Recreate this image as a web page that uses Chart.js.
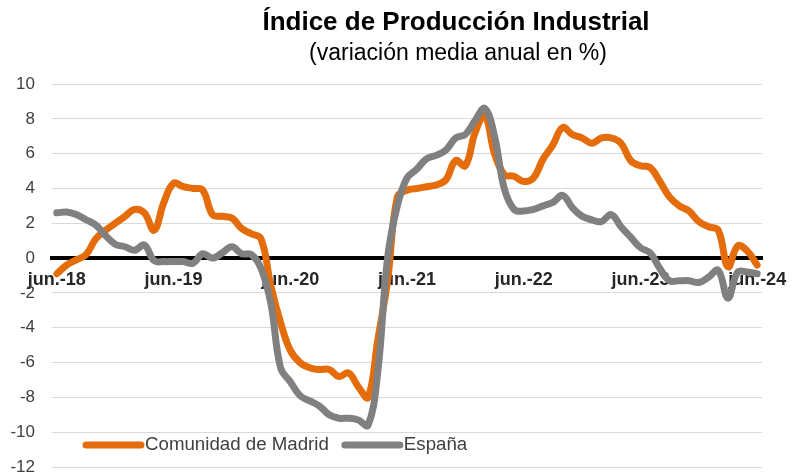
<!DOCTYPE html>
<html>
<head>
<meta charset="utf-8">
<script src="https://cdn.jsdelivr.net/npm/chart.js@4.4.1/dist/chart.umd.min.js"></script>
<style>
  body { margin: 0; background: #fff; }
  #wrap { width: 792px; height: 473px; position: relative; }
</style>
</head>
<body>
<div id="wrap"><canvas id="ipiCanvas"></canvas></div>
<script>
var titulo = 'Índice de Producción Industrial';
var subtitulo = '(variación media anual en %)';

var meses = [
	'jun.-18','jul.-18','ago.-18','sep.-18','oct.-18','nov.-18','dic.-18',
	'ene.-19','feb.-19','mar.-19','abr.-19','may.-19','jun.-19','jul.-19','ago.-19','sep.-19','oct.-19','nov.-19','dic.-19',
	'ene.-20','feb.-20','mar.-20','abr.-20','may.-20','jun.-20','jul.-20','ago.-20','sep.-20','oct.-20','nov.-20','dic.-20',
	'ene.-21','feb.-21','mar.-21','abr.-21','may.-21','jun.-21','jul.-21','ago.-21','sep.-21','oct.-21','nov.-21','dic.-21',
	'ene.-22','feb.-22','mar.-22','abr.-22','may.-22','jun.-22','jul.-22','ago.-22','sep.-22','oct.-22','nov.-22','dic.-22',
	'ene.-23','feb.-23','mar.-23','abr.-23','may.-23','jun.-23','jul.-23','ago.-23','sep.-23','oct.-23','nov.-23','dic.-23',
	'ene.-24','feb.-24','mar.-24','abr.-24','may.-24','jun.-24'
];
var etiquetasEje = ['jun.-18','jun.-19','jun.-20','jun.-21','jun.-22','jun.-23','jun.-24'];

var madrid = [
	-0.9, -0.4, -0.1, 0.2, 1.1, 1.6, 2.0, 2.4, 2.8, 2.6, 1.6, 3.2,
	4.3, 4.1, 4.0, 3.9, 2.5, 2.4, 2.3, 1.7, 1.4, 1.1, -1.6, -3.7,
	-5.3, -6.0, -6.3, -6.4, -6.4, -6.8, -6.6, -7.4, -8.0, -4.7, -1.3, 3.5,
	3.9, 4.0, 4.1, 4.2, 4.5, 5.6, 5.3, 7.2, 8.2, 6.0, 4.8, 4.7,
	4.4, 4.6, 5.7, 6.5, 7.5, 7.1, 6.9, 6.6, 6.9, 6.9, 6.6, 5.6,
	5.3, 5.2, 4.4, 3.5, 3.0, 2.7, 2.1, 1.8, 1.6, -0.5, 0.7, 0.4,
	-0.4
];
var espana = [
	2.6, 2.65, 2.5, 2.2, 1.9, 1.3, 0.8, 0.65, 0.45, 0.75, -0.15, -0.2,
	-0.2, -0.2, -0.3, 0.25, 0.0, 0.3, 0.65, 0.25, 0.2, -0.6, -2.6, -6.3,
	-7.1, -7.9, -8.2, -8.5, -9.0, -9.2, -9.2, -9.3, -9.6, -6.5, 0.0, 3.0,
	4.6, 5.1, 5.7, 5.9, 6.2, 6.9, 7.1, 7.9, 8.6, 7.0, 4.0, 2.8,
	2.7, 2.8, 3.0, 3.2, 3.6, 2.9, 2.4, 2.2, 2.1, 2.5, 1.8, 1.2,
	0.6, 0.3, -0.6, -1.3, -1.3, -1.3, -1.4, -1.1, -0.7, -2.3, -0.8, -0.8,
	-0.9
];

var fuente = '"Liberation Sans", Arial, sans-serif';

// titulo y subtitulo
var pluginTitulo = {
	id: 'pluginTitulo',
	afterDraw: function(chart) {
		var c = chart.ctx;
		c.save();
		c.fillStyle = '#000';
		c.textAlign = 'center';
		c.textBaseline = 'middle';
		c.font = 'bold 26px ' + fuente;
		c.fillText(titulo, 456, 23);
		c.font = '23px ' + fuente;
		c.fillText(subtitulo, 458, 54);
		c.restore();
	}
};

// leyenda dentro del area del grafico
var pluginLeyenda = {
	id: 'pluginLeyenda',
	afterDraw: function(chart) {
		var c = chart.ctx;
		var x = 86, y = 445;
		c.save();
		c.font = '18.7px ' + fuente;
		c.textBaseline = 'middle';
		c.textAlign = 'left';
		chart.data.datasets.forEach(function(ds) {
			c.strokeStyle = ds.borderColor;
			c.lineWidth = 7;
			c.lineCap = 'round';
			c.beginPath();
			c.moveTo(x, y);
			c.lineTo(x + 55, y);
			c.stroke();
			x += 59;
			c.fillStyle = '#404040';
			c.fillText(ds.label, x, y);
			x += c.measureText(ds.label).width + 16;
		});
		c.restore();
	}
};

var ctx = document.getElementById('ipiCanvas').getContext('2d');
var chart = new Chart(ctx, {
	type: 'line',
	data: {
		labels: meses,
		datasets: [{
			label: 'Comunidad de Madrid',
			data: madrid,
			borderColor: '#E46C0A',
			order: 2
		}, {
			label: 'España',
			data: espana,
			borderColor: '#808080',
			order: 1
		}]
	},
	options: {
		responsive: true,
		maintainAspectRatio: false,
		animation: false,
		layout: { padding: { top: 84, bottom: 6, left: 0, right: 30 } },
		elements: {
			line: { borderWidth: 7, tension: 0.4, fill: false, borderCapStyle: 'round', borderJoinStyle: 'round' },
			point: { radius: 0, hoverRadius: 0 }
		},
		plugins: {
			legend: { display: false },
			title: { display: false },
			tooltip: { enabled: false }
		},
		scales: {
			x: {
				position: { y: 0 },
				offset: true,
				grid: { display: false, drawTicks: false },
				border: { display: true, color: '#000', width: 4 },
				ticks: {
					autoSkip: false,
					maxRotation: 0,
					padding: 11,
					color: '#262626',
					font: { family: fuente, size: 18, weight: 'bold' },
					callback: function(val) {
						var lab = this.getLabelForValue(val);
						return etiquetasEje.indexOf(lab) >= 0 ? lab : '';
					}
				},
				afterFit: function(s) { s.paddingLeft = 0; s.paddingRight = 0; }
			},
			y: {
				min: -12,
				max: 10,
				grid: { color: '#D9D9D9', lineWidth: 1, drawTicks: false },
				border: { display: false },
				ticks: {
					stepSize: 2,
					padding: 17,
					color: '#404040',
					font: { family: fuente, size: 17 }
				},
				afterFit: function(s) { s.width = 52; s.paddingTop = 0; s.paddingBottom = 0; }
			}
		}
	},
	plugins: [pluginTitulo, pluginLeyenda]
});
</script>
</body>
</html>
